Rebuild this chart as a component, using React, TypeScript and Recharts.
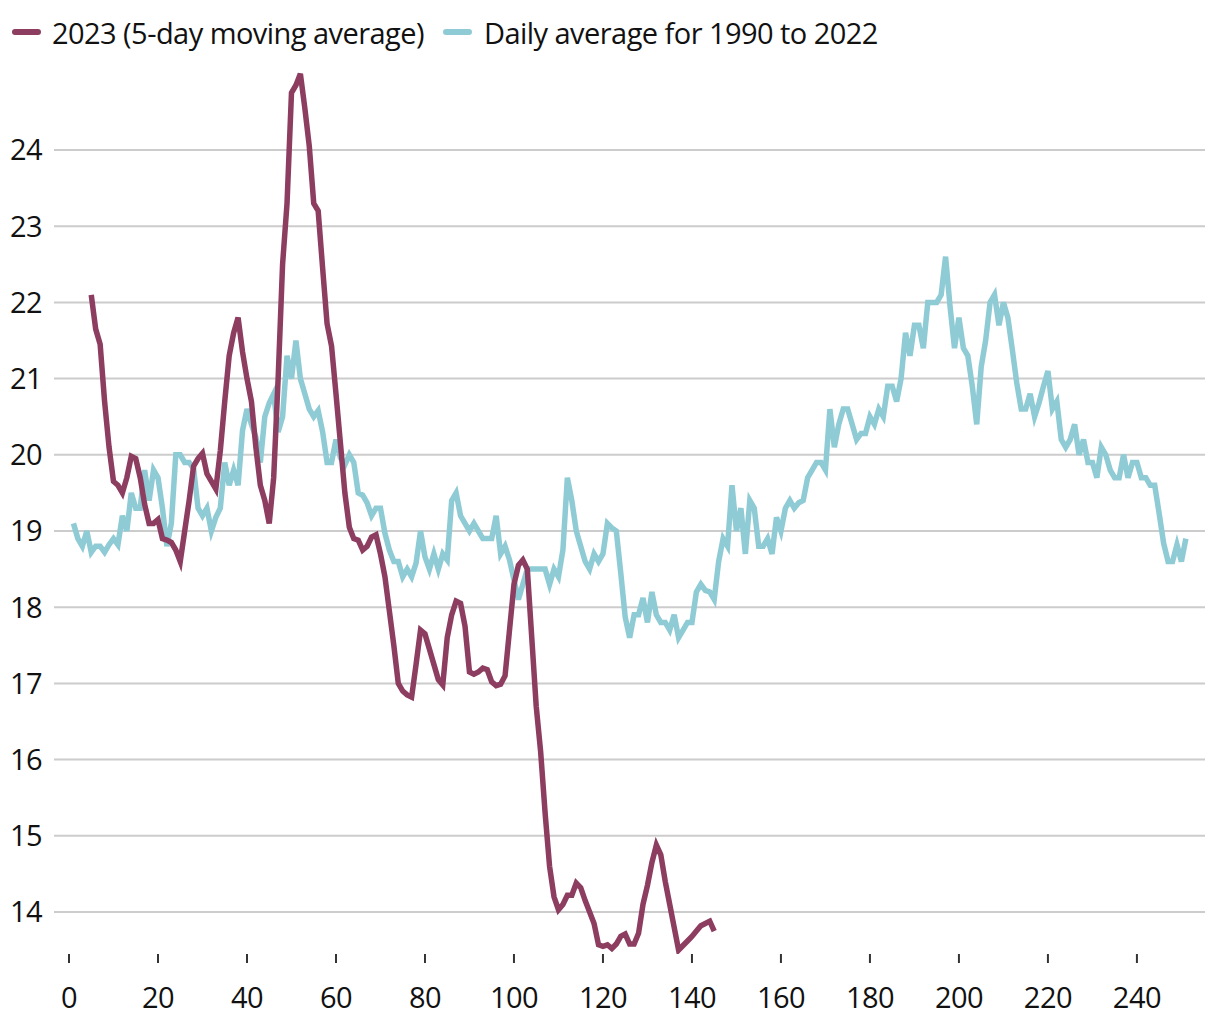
import React from 'react';
import { LineChart, Line, XAxis, YAxis, CartesianGrid, Legend } from 'recharts';

const FIRST_DAY_2023 = 5;
const avg2023 = [
  22.1, 21.65, 21.45, 20.7, 20.1, 19.65, 19.6, 19.5, 19.7, 19.98,
  19.95, 19.7, 19.35, 19.1, 19.1, 19.15, 18.9, 18.88, 18.85, 18.75,
  18.6, 19.0, 19.4, 19.85, 19.95, 20.02, 19.75, 19.65, 19.55, 20.05,
  20.7, 21.3, 21.6, 21.8, 21.35, 21.0, 20.7, 20.1, 19.6, 19.4,
  19.1, 19.7, 21.0, 22.5, 23.3, 24.75, 24.85, 25.0, 24.55, 24.05,
  23.3, 23.2, 22.45, 21.72, 21.43, 20.8, 20.15, 19.5, 19.05, 18.9,
  18.88, 18.75, 18.8, 18.92, 18.95, 18.7, 18.4, 17.95, 17.5, 17.0,
  16.9, 16.85, 16.82, 17.25, 17.7, 17.65, 17.45, 17.25, 17.05, 16.98,
  17.6, 17.9, 18.08, 18.05, 17.75, 17.15, 17.12, 17.15, 17.2, 17.18,
  17.02, 16.97, 16.99, 17.1, 17.7, 18.3, 18.55, 18.62, 18.5, 17.6,
  16.7, 16.1, 15.3, 14.6, 14.2, 14.03, 14.1, 14.22, 14.22, 14.38,
  14.32, 14.15, 14.0, 13.85, 13.57, 13.55, 13.57, 13.52, 13.58, 13.68,
  13.71, 13.58, 13.58, 13.72, 14.1, 14.35, 14.65, 14.88, 14.75, 14.4,
  14.1, 13.8, 13.5, 13.56, 13.62, 13.68, 13.75, 13.82, 13.85, 13.88, 13.75,
];

const FIRST_DAY_AVG = 1;
const dailyAvg = [
  19.1, 18.9, 18.8, 19.0, 18.72, 18.8, 18.8, 18.72, 18.82, 18.9,
  18.82, 19.2, 19.0, 19.5, 19.3, 19.3, 19.8, 19.4, 19.8, 19.7,
  19.3, 18.8, 19.1, 20.0, 20.0, 19.9, 19.9, 19.82, 19.3, 19.2,
  19.3, 19.0, 19.18, 19.3, 19.9, 19.6, 19.8, 19.6, 20.32, 20.6,
  20.4, 20.23, 19.9, 20.5, 20.68, 20.8, 20.3, 20.5, 21.3, 21.0,
  21.5, 21.0, 20.8, 20.6, 20.5, 20.58, 20.3, 19.9, 19.9, 20.2,
  19.96, 19.87, 20.0, 19.9, 19.5, 19.47, 19.37, 19.2, 19.3, 19.3,
  18.97, 18.75, 18.6, 18.6, 18.4, 18.5, 18.4, 18.58, 19.0, 18.66,
  18.5, 18.7, 18.5, 18.7, 18.62, 19.4, 19.5, 19.2, 19.1, 19.0,
  19.1, 19.0, 18.9, 18.9, 18.9, 19.2, 18.7, 18.8, 18.62, 18.36,
  18.1, 18.3, 18.5, 18.5, 18.5, 18.5, 18.5, 18.3, 18.5, 18.4,
  18.75, 19.7, 19.4, 19.0, 18.8, 18.6, 18.5, 18.7, 18.6, 18.7,
  19.1, 19.04, 19.0, 18.45, 17.87, 17.6, 17.9, 17.9, 18.12, 17.8,
  18.2, 17.9, 17.8, 17.8, 17.7, 17.9, 17.6, 17.7, 17.8, 17.8,
  18.2, 18.3, 18.22, 18.2, 18.1, 18.6, 18.9, 18.8, 19.6, 19.0,
  19.3, 18.7, 19.4, 19.3, 18.8, 18.8, 18.9, 18.7, 19.18, 19.0,
  19.3, 19.4, 19.3, 19.37, 19.4, 19.7, 19.8, 19.9, 19.9, 19.8,
  20.6, 20.1, 20.4, 20.6, 20.6, 20.4, 20.2, 20.28, 20.28, 20.5,
  20.4, 20.6, 20.5, 20.9, 20.9, 20.7, 21.0, 21.6, 21.3, 21.7,
  21.7, 21.4, 22.0, 22.0, 22.0, 22.1, 22.6, 21.95, 21.4, 21.8,
  21.4, 21.3, 20.9, 20.4, 21.15, 21.5, 22.0, 22.1, 21.7, 22.0,
  21.8, 21.38, 20.94, 20.6, 20.6, 20.8, 20.5, 20.68, 20.9, 21.1,
  20.6, 20.7, 20.2, 20.1, 20.2, 20.4, 20.0, 20.2, 19.9, 19.9,
  19.7, 20.1, 20.0, 19.8, 19.7, 19.7, 20.0, 19.7, 19.9, 19.9,
  19.7, 19.7, 19.6, 19.6, 19.23, 18.84, 18.6, 18.6, 18.82, 18.6, 18.9,
];

const xTicks = [0, 20, 40, 60, 80, 100, 120, 140, 160, 180, 200, 220, 240];
const yTicks = [14, 15, 16, 17, 18, 19, 20, 21, 22, 23, 24];
const seriesNames = ['2023 (5-day moving average)', 'Daily average for 1990 to 2022'];

const MAROON = '#8C3D60';
const BLUE = '#8FCBD5';
const FONT = '"Open Sans", "Noto Sans", sans-serif';
const LS = '-0.55px';

const lastDay = Math.max(FIRST_DAY_2023 + avg2023.length - 1, FIRST_DAY_AVG + dailyAvg.length - 1);
const rows: { day: number; y2023: number | null; avg: number | null }[] = [];
for (let d = 1; d <= lastDay; d++) {
  const i = d - FIRST_DAY_2023;
  const j = d - FIRST_DAY_AVG;
  rows.push({
    day: d,
    y2023: i >= 0 && i < avg2023.length ? avg2023[i] : null,
    avg: j >= 0 && j < dailyAvg.length ? dailyAvg[j] : null,
  });
}

const YTick = (props: any) => {
  const { y, payload } = props;
  return (
    <text x={10} y={y} dy="0.36em" textAnchor="start" fill="#111" fontSize={29} fontFamily={FONT} letterSpacing={LS}>
      {payload.value}
    </text>
  );
};

const XTick = (props: any) => {
  const { x, y, payload } = props;
  return (
    <text x={x} y={y} dy="0.71em" textAnchor="middle" fill="#111" fontSize={29} fontFamily={FONT} letterSpacing={LS}>
      {payload.value}
    </text>
  );
};

const LegendContent = () => (
  <div style={{ position: 'relative', width: 1220, height: 60, fontFamily: FONT, fontSize: 29, color: '#111', letterSpacing: LS }}>
    <div style={{ position: 'absolute', left: 12, top: 29, width: 29, height: 6, borderRadius: 3, background: MAROON }} />
    <div style={{ position: 'absolute', left: 52, top: 14, lineHeight: '38px', whiteSpace: 'nowrap' }}>{seriesNames[0]}</div>
    <div style={{ position: 'absolute', left: 443, top: 29, width: 29, height: 6, borderRadius: 3, background: BLUE }} />
    <div style={{ position: 'absolute', left: 484, top: 14, lineHeight: '38px', whiteSpace: 'nowrap' }}>{seriesNames[1]}</div>
  </div>
);

export default function App() {
  return (
    <div style={{ position: 'absolute', left: 0, top: 0, width: 1220, height: 1020, background: '#fff' }}>
      <LineChart width={1220} height={1020} data={rows} margin={{ top: 60, right: 15, bottom: 0, left: 0 }}>
        <CartesianGrid horizontal vertical={false} horizontalValues={yTicks} stroke="#CCCCCC" strokeWidth={2} />
        <XAxis
          dataKey="day"
          type="number"
          domain={[-3.37, 255.3]}
          allowDataOverflow
          ticks={xTicks}
          interval={0}
          height={66}
          axisLine={false}
          tickLine={{ stroke: '#333', strokeWidth: 2 }}
          tickSize={9}
          tickMargin={24}
          tick={<XTick />}
        />
        <YAxis
          type="number"
          domain={[13.449, 25.181]}
          allowDataOverflow
          ticks={yTicks}
          interval={0}
          width={54}
          axisLine={false}
          tickLine={false}
          tick={<YTick />}
        />
        <Legend verticalAlign="middle" layout="horizontal" wrapperStyle={{ top: 0, left: 0, width: 1220, height: 60 }} content={<LegendContent />} />
        <Line dataKey="avg" name={seriesNames[1]} stroke={BLUE} strokeWidth={5.5} dot={false} activeDot={false} isAnimationActive={false} connectNulls={false} />
        <Line dataKey="y2023" name={seriesNames[0]} stroke={MAROON} strokeWidth={5.5} dot={false} activeDot={false} isAnimationActive={false} connectNulls={false} />
      </LineChart>
    </div>
  );
}
